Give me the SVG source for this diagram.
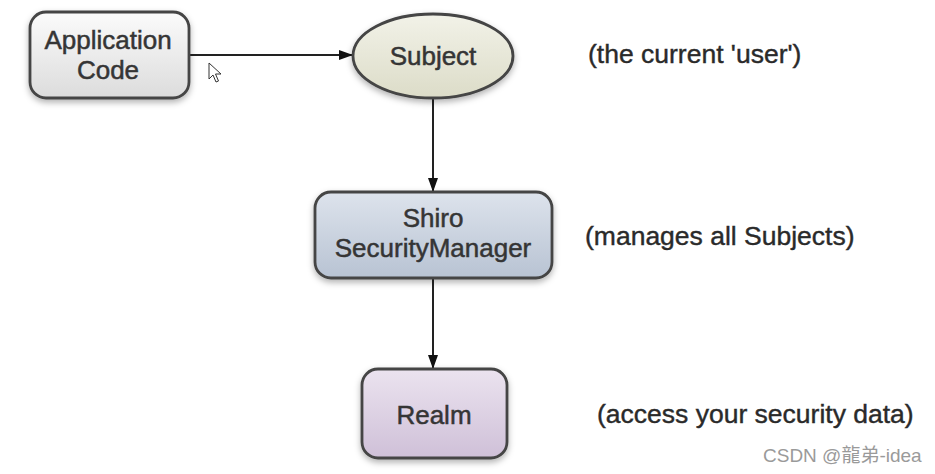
<svg xmlns="http://www.w3.org/2000/svg" width="935" height="474" viewBox="0 0 935 474">
<style>
.box{stroke:#444;stroke-width:2.8}
.lbl{font-family:"Liberation Sans",Arial,sans-serif;font-size:26px;fill:#353535;stroke:#353535;stroke-width:0.5;text-anchor:middle}
.note{font-family:"Liberation Sans",Arial,sans-serif;font-size:26.5px;fill:#2a2a2a;stroke:#2a2a2a;stroke-width:0.4}
.wm{font-family:"Liberation Sans","Noto Sans CJK SC",sans-serif;font-size:19px;fill:#9a9a9a}
.edge{stroke:#222;stroke-width:2;fill:none}
</style>
<defs>
<linearGradient id="gApp" x1="0" y1="0" x2="0" y2="1"><stop offset="0" stop-color="#fbfbfb"/><stop offset="1" stop-color="#dcdcdc"/></linearGradient>
<linearGradient id="gSub" x1="0" y1="0" x2="0" y2="1"><stop offset="0" stop-color="#f2f2e8"/><stop offset="1" stop-color="#dcdcc8"/></linearGradient>
<linearGradient id="gSec" x1="0" y1="0" x2="0" y2="1"><stop offset="0" stop-color="#dde3ec"/><stop offset="1" stop-color="#b8c3d3"/></linearGradient>
<linearGradient id="gRealm" x1="0" y1="0" x2="0" y2="1"><stop offset="0" stop-color="#ebe3ef"/><stop offset="1" stop-color="#cfc0d8"/></linearGradient>
<filter id="sh" x="-20%" y="-20%" width="140%" height="150%"><feDropShadow dx="0" dy="3" stdDeviation="3" flood-color="#000" flood-opacity="0.3"/></filter>
<marker id="ah" viewBox="0 0 14 10" refX="13" refY="5" markerWidth="14" markerHeight="10" markerUnits="userSpaceOnUse" orient="auto"><path d="M0,0 L14,5 L0,10 Z" fill="#111"/></marker>
</defs>
<rect width="935" height="474" fill="#ffffff"/>
<g id="connectors">
<line class="edge" x1="190" y1="55" x2="352" y2="55" marker-end="url(#ah)"/>
<line class="edge" x1="433" y1="98" x2="433" y2="191" marker-end="url(#ah)"/>
<line class="edge" x1="433" y1="278" x2="433" y2="368" marker-end="url(#ah)"/>
</g>
<g id="app-code">
<rect class="box" x="30" y="12" width="159" height="86" rx="16" fill="url(#gApp)" filter="url(#sh)"/>
<text class="lbl" x="108" y="49">Application</text>
<text class="lbl" x="108" y="79">Code</text>
</g>
<g id="subject">
<ellipse class="box" cx="433" cy="56" rx="80" ry="42" fill="url(#gSub)" filter="url(#sh)"/>
<text class="lbl" x="433" y="65">Subject</text>
</g>
<g id="security-manager">
<rect class="box" x="315" y="192" width="237" height="86" rx="16" fill="url(#gSec)" filter="url(#sh)"/>
<text class="lbl" x="433" y="227">Shiro</text>
<text class="lbl" x="433" y="257">SecurityManager</text>
</g>
<g id="realm">
<rect class="box" x="362" y="369" width="145" height="89" rx="16" fill="url(#gRealm)" filter="url(#sh)"/>
<text class="lbl" x="434" y="424">Realm</text>
</g>
<text class="note" x="588" y="63">(the current 'user')</text>
<text class="note" x="585" y="245">(manages all Subjects)</text>
<text class="note" x="597" y="423">(access your security data)</text>
<text class="wm" x="763" y="462">CSDN @龍弟-idea</text>
<path d="M209,63 L209,79 L213,75 L216,82 L218.5,81 L215.5,74 L221,74 Z" fill="#fff" stroke="#333" stroke-width="1"/>
</svg>
